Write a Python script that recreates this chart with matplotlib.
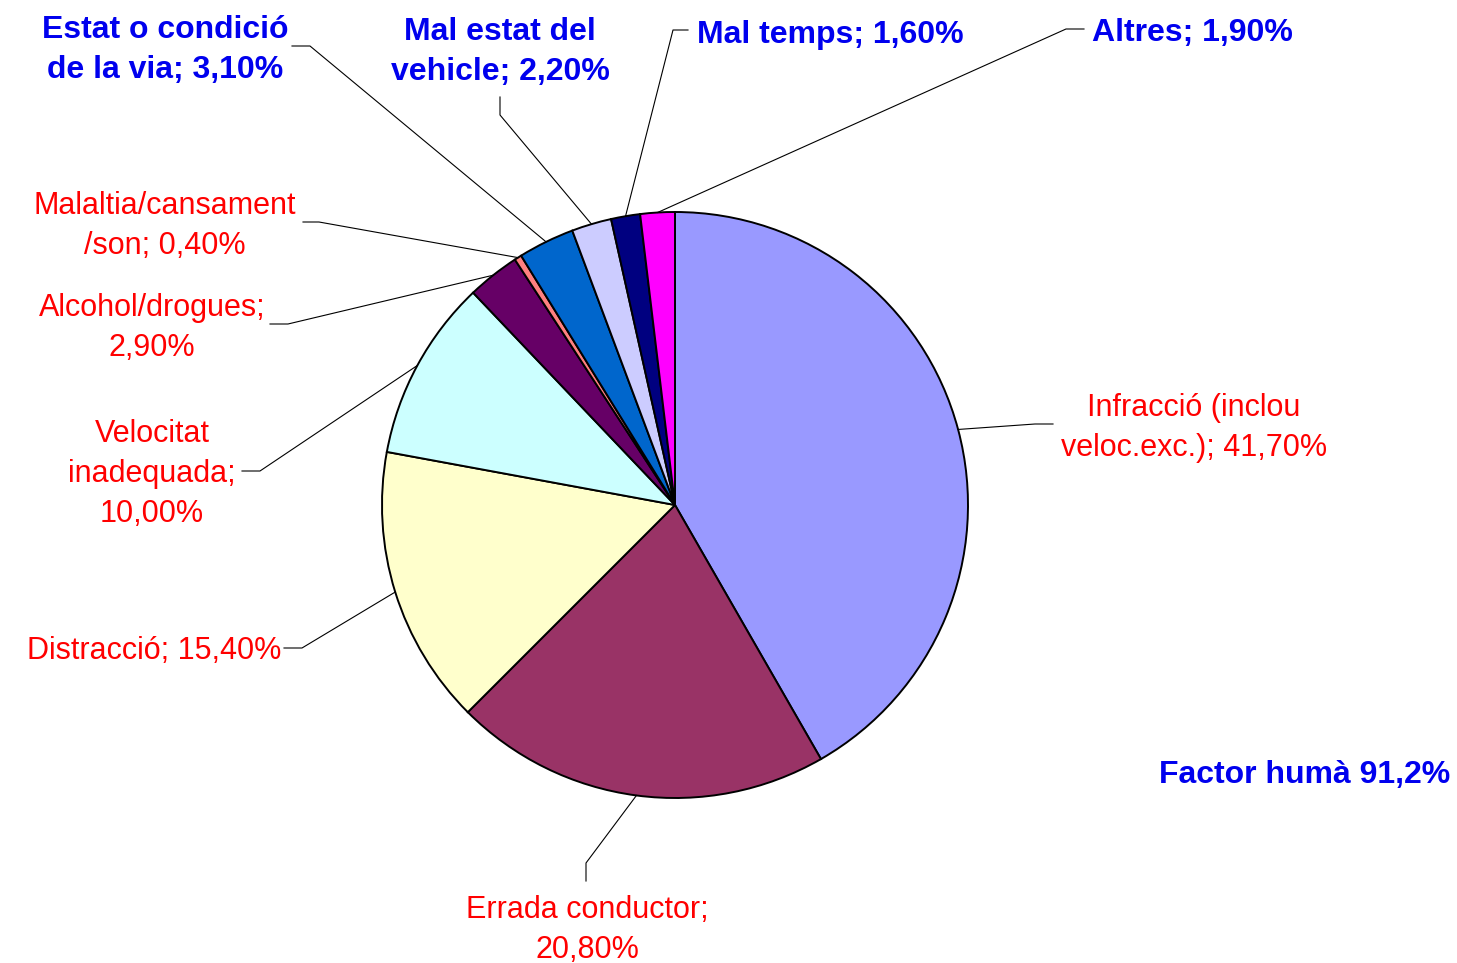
import numpy as np
from matplotlib import pyplot as plt

plt.rcParams['font.family'] = ['Liberation Sans', 'DejaVu Sans']

# dades (percentatges)
labels = ['Infracció (inclou\nveloc.exc.); 41,70%',
          'Errada conductor;\n20,80%',
          'Distracció; 15,40%',
          'Velocitat\ninadequada;\n10,00%',
          'Alcohol/drogues;\n2,90%',
          'Malaltia/cansament\n/son; 0,40%',
          'Estat o condició\nde la via; 3,10%',
          'Mal estat del\nvehicle; 2,20%',
          'Mal temps; 1,60%',
          'Altres; 1,90%']
values = [41.7, 20.8, 15.4, 10.0, 2.9, 0.4, 3.1, 2.2, 1.6, 1.9]
colors = ['#9999FF', '#993366', '#FFFFCC', '#CCFFFF', '#660066',
          '#FF8080', '#0066CC', '#CCCCFF', '#000080', '#FF00FF']
human = [True, True, True, True, True, True, False, False, False, False]
note = 'Factor humà 91,2%'

W, H = 1457, 963
cx, cy, R = 675, 505, 293

# posicio de cada etiqueta: (x, y, ha), colze i final del tram recte
lab_pos = [(1194, 428, 'center'), (587, 930, 'center'), (281, 651, 'right'),
           (152, 474, 'center'), (152, 328, 'center'), (165, 226, 'center'),
           (165, 50, 'center'), (500, 52, 'center'), (697, 35, 'left'),
           (1092, 33, 'left')]
elbow = [((1035, 424), (1053, 424)), ((586, 863), (586, 881)),
         ((302, 648), (284, 648)), ((260, 471), (242, 471)),
         ((288, 324), (270, 324)), ((319, 222), (303, 222)),
         ((310, 46), (292, 46)), ((500, 115), (500, 97)),
         ((673, 30), (688, 30)), ((1066, 29), (1084, 29))]

fig = plt.figure(figsize=(W / 100, H / 100), dpi=100)
ax = fig.add_axes([0, 0, 1, 1])
wedges, _ = ax.pie(values, colors=colors, startangle=-90, counterclock=True,
                   center=(cx, cy), radius=R,
                   wedgeprops=dict(edgecolor='black', linewidth=1.4))
ax.set_xlim(0, W)
ax.set_ylim(H, 0)
ax.set_axis_off()

for w, lab, hum, (tx, ty, ha), (e1, e2) in zip(wedges, labels, human, lab_pos, elbow):
    mid = np.deg2rad((w.theta1 + w.theta2) / 2)
    px, py = cx + R * np.cos(mid), cy + R * np.sin(mid)
    ax.plot([px, e1[0], e2[0]], [py, e1[1], e2[1]], color='black', lw=0.8)
    ax.text(tx, ty, lab, ha=ha, va='center', linespacing=1.45,
            fontsize=22 if hum else 23,
            color='#FF0000' if hum else '#0000EE',
            fontweight='normal' if hum else 'bold')

ax.text(1450, 775, note, ha='right', va='center', fontsize=23,
        color='#0000EE', fontweight='bold')

fig.savefig('out.png', dpi=100)
